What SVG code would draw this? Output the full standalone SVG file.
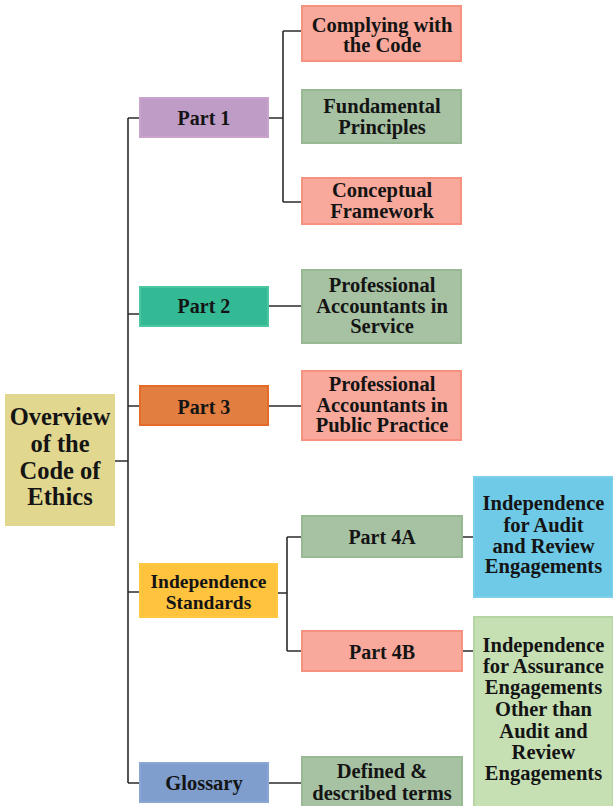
<svg xmlns="http://www.w3.org/2000/svg" width="613" height="806" viewBox="0 0 613 806">
  <style>
    .box { stroke-width: 2; }
    .t { font-family: 'Liberation Serif', 'DejaVu Serif', serif; font-weight: 700; font-size: 20.5px; fill: #141414; text-anchor: middle; }
    .big { font-size: 24.5px; }
    .part { font-size: 20px; }
    .sm { font-size: 19.5px; }
    .salmon { fill: #F8A99B; stroke: #F4917F; }
    .sage { fill: #A7C2A3; stroke: #99B894; }
    .wire { fill: none; stroke: #2b2b2b; stroke-width: 1.6; }
  </style>

  <!-- connectors -->
  <g id="connectors">
    <path class="wire" d="M115 461 H128 M128 118 V783 M128 118 H140 M128 314 H140 M128 406 H140 M128 592 H140 M128 783 H140"/>
    <path class="wire" d="M268 118 H283 M283 31 V202 M283 31 H302 M283 202 H302"/>
    <path class="wire" d="M268 306 H302 M268 406 H302"/>
    <path class="wire" d="M277 593 H287 M287 537 V651 M287 537 H302 M287 651 H302"/>
    <path class="wire" d="M462 537 H474 M462 651 H474"/>
    <path class="wire" d="M268 783 H302"/>
  </g>

  <g id="overview">
    <rect x="5" y="394" width="110" height="132" fill="#E1D78F"/>
    <text class="t big" x="60" y="425">Overview</text>
    <text class="t big" x="60" y="452">of the</text>
    <text class="t big" x="60" y="479">Code of</text>
    <text class="t big" x="60" y="505">Ethics</text>
  </g>

  <g id="part1">
    <rect class="box" x="140" y="98" width="128" height="39" fill="#BF9CC6" stroke="#C9A3CD"/>
    <text class="t part" x="204" y="125">Part 1</text>
  </g>

  <g id="complying">
    <rect class="box salmon" x="302" y="6" width="159" height="55"/>
    <text class="t" x="382" y="31.5">Complying with</text>
    <text class="t" x="382" y="52.3">the Code</text>
  </g>

  <g id="fundamental">
    <rect class="box sage" x="302" y="90" width="159" height="53"/>
    <text class="t" x="382" y="113.3">Fundamental</text>
    <text class="t" x="382" y="134">Principles</text>
  </g>

  <g id="conceptual">
    <rect class="box salmon" x="302" y="178" width="159" height="46"/>
    <text class="t" x="382" y="197.3">Conceptual</text>
    <text class="t" x="382" y="217.5">Framework</text>
  </g>

  <g id="part2">
    <rect class="box" x="140" y="287" width="128" height="39" fill="#33B994" stroke="#4CC6A0"/>
    <text class="t part" x="204" y="313.3">Part 2</text>
  </g>

  <g id="pa-service">
    <rect class="box sage" x="302" y="270" width="159" height="73"/>
    <text class="t" x="382" y="291.7">Professional</text>
    <text class="t" x="382" y="312.7">Accountants in</text>
    <text class="t" x="382" y="333.3">Service</text>
  </g>

  <g id="part3">
    <rect class="box" x="140" y="386" width="128" height="39" fill="#E27F40" stroke="#E56B2B"/>
    <text class="t part" x="204" y="414">Part 3</text>
  </g>

  <g id="pa-public">
    <rect class="box salmon" x="302" y="371" width="159" height="69"/>
    <text class="t" x="382" y="390.7">Professional</text>
    <text class="t" x="382" y="411.7">Accountants in</text>
    <text class="t" x="382" y="432.3">Public Practice</text>
  </g>

  <g id="independence">
    <rect class="box" x="140" y="564" width="137" height="53" fill="#FFC33E" stroke="#FFC840"/>
    <text class="t sm" x="208.5" y="588.3">Independence</text>
    <text class="t sm" x="208.5" y="609">Standards</text>
  </g>

  <g id="part4a">
    <rect class="box sage" x="302" y="516" width="160" height="41"/>
    <text class="t part" x="382" y="544">Part 4A</text>
  </g>

  <g id="audit-review">
    <rect class="box" x="474" y="477" width="139" height="120" fill="#6FCAE8" stroke="#7DD0EA"/>
    <text class="t" x="543.5" y="510">Independence</text>
    <text class="t" x="543.5" y="532">for Audit</text>
    <text class="t" x="543.5" y="552.7">and Review</text>
    <text class="t" x="543.5" y="573.3">Engagements</text>
  </g>

  <g id="part4b">
    <rect class="box salmon" x="302" y="631" width="160" height="40"/>
    <text class="t part" x="382" y="659">Part 4B</text>
  </g>

  <g id="assurance">
    <rect class="box" x="474" y="617" width="139" height="195" fill="#C6E0B4" stroke="#B5D6A2"/>
    <text class="t" x="543.5" y="651.7">Independence</text>
    <text class="t" x="543.5" y="673.3">for Assurance</text>
    <text class="t" x="543.5" y="694.3">Engagements</text>
    <text class="t" x="543.5" y="716">Other than</text>
    <text class="t" x="543.5" y="737.7">Audit and</text>
    <text class="t" x="543.5" y="758.7">Review</text>
    <text class="t" x="543.5" y="780">Engagements</text>
  </g>

  <g id="glossary">
    <rect class="box" x="140" y="763" width="128" height="39" fill="#7F9ECD" stroke="#8AA6D2"/>
    <text class="t" x="204" y="790">Glossary</text>
  </g>

  <g id="defined-terms">
    <rect class="box sage" x="302" y="757" width="160" height="55"/>
    <text class="t" x="382" y="778.3">Defined &amp;</text>
    <text class="t" x="382" y="800">described terms</text>
  </g>
</svg>
